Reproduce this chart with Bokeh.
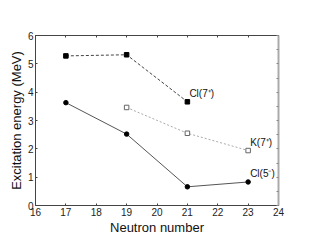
from bokeh.plotting import figure
from bokeh.models import LinearAxis, SingleIntervalTicker, Range1d, ColumnDataSource, CustomJSTickFormatter
from bokeh.embed import file_html
from bokeh.resources import INLINE
from bokeh.core.properties import value

# Data
cl5_n = [17, 19, 21, 23]
cl5_e = [3.63, 2.52, 0.66, 0.83]
cl7_n = [17, 19, 21]
cl7_e = [5.28, 5.32, 3.66]
k7_n = [19, 21, 23]
k7_e = [3.46, 2.55, 1.94]

lab_n = [21, 23, 23]
lab_e = [3.66, 1.94, 0.83]
lab_t = ["Cl(7\u207a)", "K(7\u207a)", "Cl(5\u207b)"]

font = "Liberation Sans"

p = figure(frame_width=243, frame_height=170, output_backend="svg", toolbar_location=None,
           x_range=Range1d(16, 24), y_range=Range1d(0, 6),
           min_border_left=35, min_border_right=14, min_border_top=35, min_border_bottom=22,
           background_fill_color="white", border_fill_color="white")
p.grid.visible = False
p.outline_line_color = "#666666"
p.outline_line_width = 1

for ax in (p.xaxis[0], p.yaxis[0]):
    ax.axis_line_color = "#444444"
    ax.major_tick_in = 2
    ax.major_tick_out = 0
    ax.minor_tick_in = 0
    ax.minor_tick_out = 0
    ax.major_tick_line_color = "#444444"
    ax.major_label_text_font = font
    ax.major_label_text_font_size = "10px"
    ax.major_label_text_color = "#222222"
    ax.axis_label_text_font = font
    ax.axis_label_text_font_size = "13px"
    ax.axis_label_text_font_style = "normal"
    ax.axis_label_text_color = "#111111"
    ax.major_label_standoff = 2
    ax.axis_label_standoff = 1

p.xaxis[0].ticker = SingleIntervalTicker(interval=1)
p.yaxis[0].ticker = SingleIntervalTicker(interval=1)
p.xaxis.axis_label = "Neutron number"
p.yaxis.axis_label = "Excitation energy (MeV)"

blank = CustomJSTickFormatter(code="return ''")
top = LinearAxis(ticker=SingleIntervalTicker(interval=1), formatter=blank,
                 major_tick_in=2, major_tick_out=0, minor_tick_in=0, minor_tick_out=0,
                 axis_line_color="#444444", major_tick_line_color="#444444", major_label_standoff=0)
p.add_layout(top, "above")
right = LinearAxis(ticker=SingleIntervalTicker(interval=0.5), formatter=blank,
                   major_tick_in=2, major_tick_out=0, minor_tick_in=0, minor_tick_out=0,
                   axis_line_color="#aaaaaa", axis_line_width=2,
                   major_tick_line_color="#888888", major_label_standoff=0)
p.add_layout(right, "right")

# Cl(5-)
p.line(cl5_n, cl5_e, line_color="#555555", line_width=1)
p.scatter(cl5_n, cl5_e, marker="circle", size=4.5, fill_color="black", line_color="black")
# Cl(7+)
p.line(cl7_n, cl7_e, line_color="#444444", line_width=1, line_dash="3 2")
p.scatter(cl7_n, cl7_e, marker="square", size=4.5, fill_color="black", line_color="black")
# K(7+)
p.line(k7_n, k7_e, line_color="#aaaaaa", line_width=1, line_dash="2 2")
p.scatter(k7_n, k7_e, marker="square", size=4.5, fill_color="white", line_color="#666666")

src = ColumnDataSource(dict(x=lab_n, y=lab_e, t=lab_t))
p.text("x", "y", text="t", source=src, x_offset=2, y_offset=-3,
       text_font=value(font), text_font_size="10px", text_color="#111111",
       text_baseline="bottom", text_align="left")

open("out.html", "w").write(file_html(p, INLINE))
